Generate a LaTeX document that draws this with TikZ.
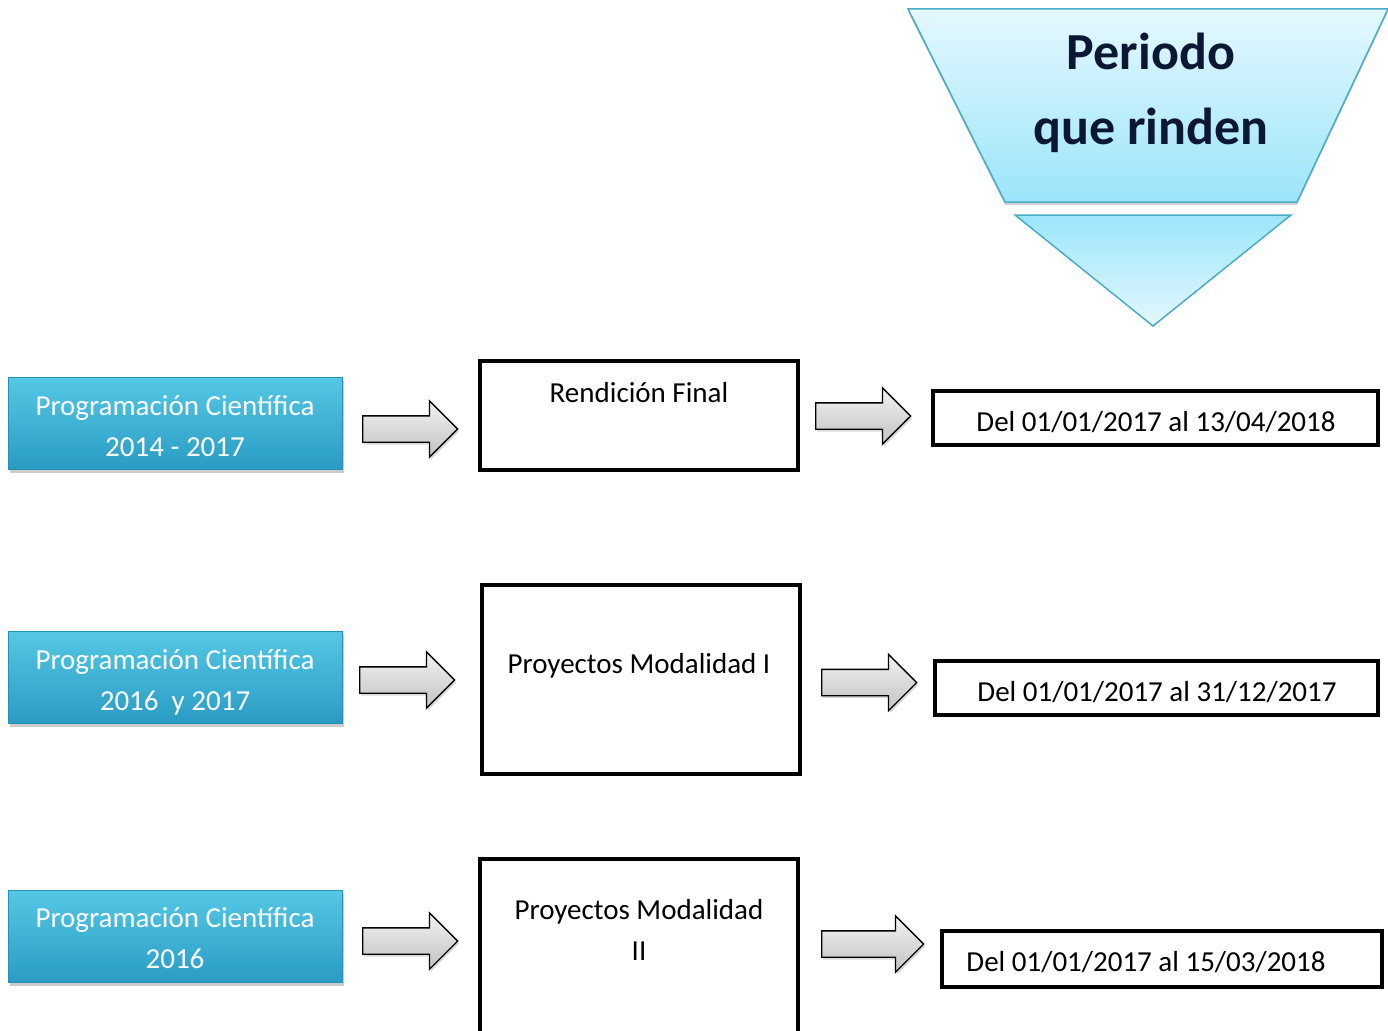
\documentclass[tikz,border=0pt]{standalone}
\usepackage{fontspec}
\setmainfont{Carlito}
\usetikzlibrary{shapes.arrows,shadows}
\definecolor{cyanT}{HTML}{55C8E5}
\definecolor{cyanB}{HTML}{2A9CC4}
\definecolor{cyanE}{HTML}{2690B5}
\definecolor{chevL}{HTML}{E4F8FE}
\definecolor{chevD}{HTML}{9CE5FA}
\definecolor{chevE}{HTML}{4BACC6}
\definecolor{navy}{HTML}{0C1733}
\definecolor{greyT}{HTML}{F2F2F2}
\definecolor{greyB}{HTML}{C2C2C2}
\tikzset{
  progbox/.style={rectangle, minimum width=334pt, minimum height=92pt,
    top color=cyanT, bottom color=cyanB, draw=cyanE, line width=0.8pt, inner sep=0pt,
    drop shadow={shadow xshift=2pt, shadow yshift=-4pt, opacity=0.4}},
  progtxt/.style={text=white, font=\fontsize{29}{41}\selectfont, align=center, inner sep=0pt},
  greyarrow/.style={single arrow, draw=black, line width=1.3pt, anchor=tail,
    top color=greyT, bottom color=greyB, inner xsep=0pt, inner ysep=12.5pt,
    minimum height=95pt, single arrow head extend=15pt,
    drop shadow={shadow xshift=1.5pt, shadow yshift=-2.5pt, opacity=0.3}},
  midbox/.style={rectangle, draw=black, line width=4pt, minimum width=318pt, inner sep=0pt},
  datebox/.style={rectangle, draw=black, line width=4pt, minimum height=54pt, inner sep=0pt},
  txt/.style={font=\fontsize{29}{41}\selectfont, text=black, align=center, inner sep=0pt},
  chevtxt/.style={font=\fontsize{52}{75}\selectfont\bfseries, text=navy, align=center, inner sep=0pt}
}
\begin{document}
\begin{tikzpicture}[x=1pt,y=-1pt]
\useasboundingbox (0,0) rectangle (1388,1030);
% chevron
\path[preaction={fill=black, opacity=0.18, transform canvas={yshift=-3pt}},
      top color=chevL, bottom color=chevD, draw=chevE, line width=1.5pt]
  (908,9) -- (1388,9) -- (1297,202) -- (1005,202) -- cycle;
\path[top color=chevD, bottom color=chevL, draw=chevE, line width=1.5pt]
  (1015,215) -- (1291,215) -- (1153,326) -- cycle;
\node[chevtxt] (title) at (1151,93) {Periodo\\que rinden};
% row 1
\node[progbox] (p1) at (175,423) {};
\node[progtxt] (p1t) at (175,426) {Programación Científica\\2014 - 2017};
\node[greyarrow] (a1) at (362,429) {};
\node[midbox, minimum height=109pt] (m1) at (639,415.5) {};
\node[txt] (m1t) at (639,393) {Rendición Final};
\node[greyarrow] (b1) at (815,416) {};
\node[datebox, minimum width=445pt] (d1) at (1155.5,418) {};
\node[txt, anchor=base] (d1t) at (1156,431) {Del 01/01/2017 al 13/04/2018};
% row 2
\node[progbox] (p2) at (175,677) {};
\node[progtxt] (p2t) at (175,682) {Programación Científica\\2016\ \ y 2017};
\node[greyarrow] (a2) at (359,680) {};
\node[midbox, minimum height=189pt] (m2) at (641,679.5) {};
\node[txt] (m2t) at (639,666) {Proyectos Modalidad I};
\node[greyarrow] (b2) at (821,682.5) {};
\node[datebox, minimum width=443pt] (d2) at (1156.5,688) {};
\node[txt, anchor=base] (d2t) at (1157,701) {Del 01/01/2017 al 31/12/2017};
% row 3
\node[progbox] (p3) at (175,936) {};
\node[progtxt] (p3t) at (175,938) {Programación Científica\\2016};
\node[greyarrow] (a3) at (362,941) {};
\node[midbox, minimum height=180pt] (m3) at (639,949) {};
\node[txt] (m3t) at (639,929.5) {Proyectos Modalidad\\II};
\node[greyarrow, minimum height=102pt] (b3) at (821,944) {};
\node[datebox, minimum width=440pt, minimum height=56pt] (d3) at (1162,959) {};
\node[txt, anchor=base] (d3t) at (1146,971) {Del 01/01/2017 al 15/03/2018};
\end{tikzpicture}
\end{document}
